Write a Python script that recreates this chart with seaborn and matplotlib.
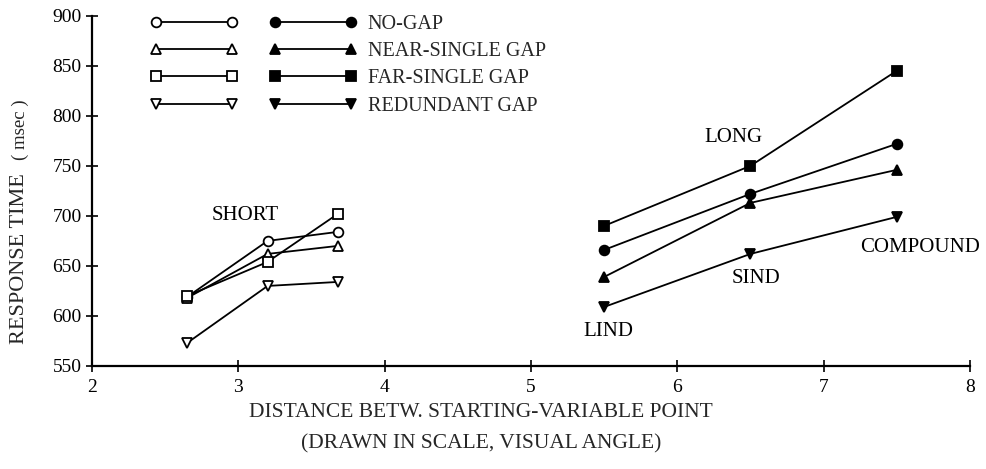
import matplotlib
matplotlib.use("Agg")
import matplotlib.pyplot as plt
from matplotlib.lines import Line2D
from matplotlib.legend_handler import HandlerTuple
import seaborn as sns

# Distance between starting and variable point (visual angle)
short_x = [2.65, 3.2, 3.68]
long_x = [5.5, 6.5, 7.5]

gap_labels = ["NO-GAP", "NEAR-SINGLE GAP", "FAR-SINGLE GAP", "REDUNDANT GAP"]

# Response times (msec), SHORT condition (open markers)
short_no_gap = [619, 675, 684]
short_near_gap = [618, 662, 670]
short_far_gap = [620, 654, 702]
short_redundant = [573, 630, 634]

# Response times (msec), LONG condition (filled markers)
long_no_gap = [666, 722, 772]
long_near_gap = [639, 713, 746]
long_far_gap = [690, 750, 845]
long_redundant = [609, 662, 699]

x_ticks = [2, 3, 4, 5, 6, 7, 8]
y_ticks = [550, 600, 650, 700, 750, 800, 850, 900]

sns.set_theme(style="ticks")
plt.rcParams["font.family"] = ["Liberation Serif", "DejaVu Serif"]

fig = plt.figure(figsize=(9.86, 4.69), dpi=100)
ax = fig.add_axes([92 / 986, 1 - 366 / 469, (970 - 92) / 986, (366 - 15.7) / 469])

markers = ["o", "^", "s", "v"]
short_series = [short_no_gap, short_near_gap, short_far_gap, short_redundant]
long_series = [long_no_gap, long_near_gap, long_far_gap, long_redundant]

line_kw = dict(color="black", linewidth=1.3, markersize=7,
               markeredgecolor="black", markeredgewidth=1.3,
               estimator=None, sort=False, legend=False)

for m, ys in zip(markers, short_series):
    sns.lineplot(x=short_x, y=ys, ax=ax, marker=m, markerfacecolor="white", **line_kw)
for m, ys in zip(markers, long_series):
    sns.lineplot(x=long_x, y=ys, ax=ax, marker=m, markerfacecolor="black", **line_kw)

ax.set_xlim(2, 8)
ax.set_ylim(550, 900)
ax.set_xticks(x_ticks)
ax.set_yticks(y_ticks)
ax.set_xticklabels([str(t) for t in x_ticks])
ax.set_yticklabels([str(t) for t in y_ticks])
ax.tick_params(axis="both", direction="inout", length=9, width=1.2,
               labelsize=14, colors="black")
ax.tick_params(axis="x", pad=5)
ax.tick_params(axis="y", pad=3)
ax.set_xlabel("")
ax.set_ylabel("")
sns.despine(ax=ax)
for side in ("left", "bottom"):
    ax.spines[side].set_linewidth(1.6)
    ax.spines[side].set_color("black")

# Condition annotations
ann_kw = dict(fontsize=15, color="black", ha="center", va="center")
ax.text(3.05, 700, "SHORT", **ann_kw)
ax.text(6.38, 778, "LONG", **ann_kw)
ax.text(6.54, 637, "SIND", **ann_kw)
ax.text(5.53, 584, "LIND", **ann_kw)
ax.text(7.66, 668, "COMPOUND", **ann_kw)

# Legend: open / filled marker samples per gap type
handles = []
for m in markers:
    open_h = Line2D([], [], color="black", marker=m, markerfacecolor="white",
                    markeredgecolor="black", markeredgewidth=1.3, markersize=7, linewidth=1.3)
    filled_h = Line2D([], [], color="black", marker=m, markerfacecolor="black",
                      markeredgecolor="black", markeredgewidth=1.3, markersize=7, linewidth=1.3)
    handles.append((open_h, filled_h))

fig.legend(handles, gap_labels, handler_map={tuple: HandlerTuple(ndivide=None, pad=1.54)},
           loc="upper left", bbox_to_anchor=(150 / 986, 1 - 15 / 469),
           bbox_transform=fig.transFigure, frameon=False, fontsize=14.5,
           handlelength=10.3, handletextpad=0.5, labelspacing=0.4,
           borderpad=0, borderaxespad=0, numpoints=2)

# Axis titles
fig.text(20 / 986, 1 - 259 / 469, "RESPONSE TIME", rotation=90, fontsize=16,
         ha="center", va="center")
fig.text(20 / 986, 1 - 130 / 469, "( msec )", rotation=90, fontsize=13.5,
         ha="center", va="center")
fig.text(481 / 986, 1 - 412 / 469, "DISTANCE BETW. STARTING-VARIABLE POINT",
         fontsize=15.5, ha="center", va="center")
fig.text(481 / 986, 1 - 444 / 469, "(DRAWN IN SCALE, VISUAL ANGLE)",
         fontsize=15.5, ha="center", va="center")

fig.savefig("out.png", dpi=100, facecolor="white")
